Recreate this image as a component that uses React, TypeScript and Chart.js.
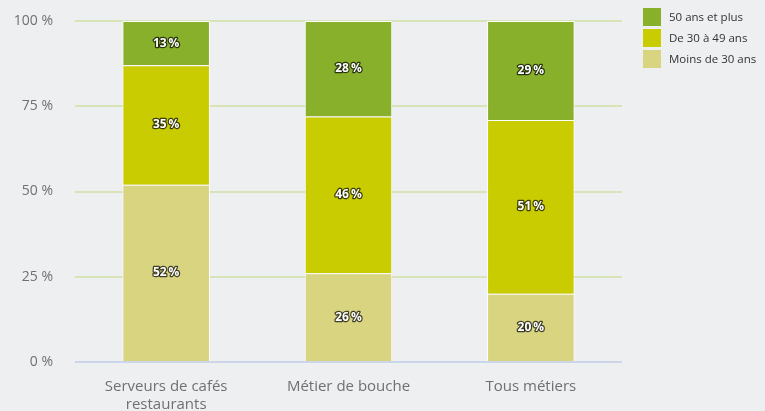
import React, { useEffect, useRef } from "react";
import { Chart, registerables } from "chart.js";

Chart.register(...registerables);

const categories: (string | string[])[] = [["Serveurs de cafés", "restaurants"], "Métier de bouche", "Tous métiers"];
const seriesNames = ["Moins de 30 ans", "De 30 à 49 ans", "50 ans et plus"];
const under30 = [52, 26, 20];
const from30to49 = [35, 46, 51];
const over50 = [13, 28, 29];
const colors = ["#d8d480", "#c8cc00", "#88b02a"];
const yTicks = [0, 25, 50, 75, 100];

const FONT = "'Open Sans', sans-serif";

const labelPlugin = {
  id: "segLabels",
  afterDatasetsDraw(chart: any) {
    const ctx = chart.ctx;
    ctx.save();
    ctx.font = `bold 12px ${FONT}`;
    ctx.textAlign = "center";
    ctx.textBaseline = "middle";
    ctx.lineJoin = "round";
    chart.data.datasets.forEach((ds: any, i: number) => {
      const meta = chart.getDatasetMeta(i);
      meta.data.forEach((bar: any, j: number) => {
        const txt = ds.data[j] + "\u2009%";
        const y = (bar.y + bar.base) / 2;
        ctx.strokeStyle = "rgba(0,0,0,0.7)";
        ctx.lineWidth = 2.5;
        ctx.strokeText(txt, bar.x, y);
        ctx.fillStyle = "#ffffff";
        ctx.fillText(txt, bar.x, y);
      });
    });
    ctx.restore();
  },
};

const legendPlugin = {
  id: "customLegend",
  afterDraw(chart: any) {
    const ctx = chart.ctx;
    ctx.save();
    const order = [2, 1, 0];
    order.forEach((idx, r) => {
      const y = 8 + r * 21;
      ctx.fillStyle = colors[idx];
      ctx.fillRect(643, y, 18, 18);
      ctx.fillStyle = "#333333";
      ctx.font = `11.5px ${FONT}`;
      ctx.textAlign = "left";
      ctx.textBaseline = "middle";
      ctx.fillText(seriesNames[idx], 669, y + 9.5);
    });
    ctx.restore();
  },
};

const bgPlugin = {
  id: "bg",
  beforeDraw(chart: any) {
    const ctx = chart.ctx;
    ctx.save();
    ctx.fillStyle = "#eeeff1";
    ctx.fillRect(0, 0, chart.width, chart.height);
    ctx.restore();
  },
};

export default function App() {
  const ref = useRef<HTMLCanvasElement>(null);
  useEffect(() => {
    document.body.style.margin = "0";
    const chart = new Chart(ref.current!, {
      type: "bar",
      data: {
        labels: categories,
        datasets: [
          { label: seriesNames[0], data: under30, backgroundColor: colors[0] },
          { label: seriesNames[1], data: from30to49, backgroundColor: colors[1] },
          { label: seriesNames[2], data: over50, backgroundColor: colors[2] },
        ].map((d) => ({ ...d, borderColor: "#ffffff", borderWidth: 1, categoryPercentage: 1, barPercentage: 0.48 })),
      },
      options: {
        animation: false,
        responsive: false,
        layout: { padding: { top: 21, right: 143, left: 0, bottom: 0 } },
        plugins: { legend: { display: false }, tooltip: { enabled: false } },
        scales: {
          x: {
            stacked: true,
            grid: { display: false },
            border: { display: false },
            ticks: { color: "#707070", font: { family: FONT, size: 15, lineHeight: 1.25 }, padding: 7 },
            afterFit: (s: any) => { s.height = 49; s.paddingLeft = 0; s.paddingRight = 0; },
          },
          y: {
            stacked: true,
            min: 0,
            max: 100,
            afterBuildTicks: (s: any) => { s.ticks = yTicks.map((v) => ({ value: v })); },
            grid: {
              drawTicks: false,
              color: (c: any) => (c.tick && c.tick.value === 0 ? "#ccd6eb" : "#d6e4b8"),
              lineWidth: 2,
            },
            border: { display: false },
            ticks: {
              color: "#707070",
              font: { family: FONT, size: 14 },
              padding: 22,
              callback: (v: any) => v + " %",
            },
            afterFit: (s: any) => { s.width = 75; s.paddingTop = 0; s.paddingBottom = 0; },
          },
        },
      },
      plugins: [bgPlugin, labelPlugin, legendPlugin],
    });
    return () => chart.destroy();
  }, []);
  return (
    <div style={{ width: 765, height: 411 }}>
      <canvas ref={ref} width={765} height={411} />
    </div>
  );
}
